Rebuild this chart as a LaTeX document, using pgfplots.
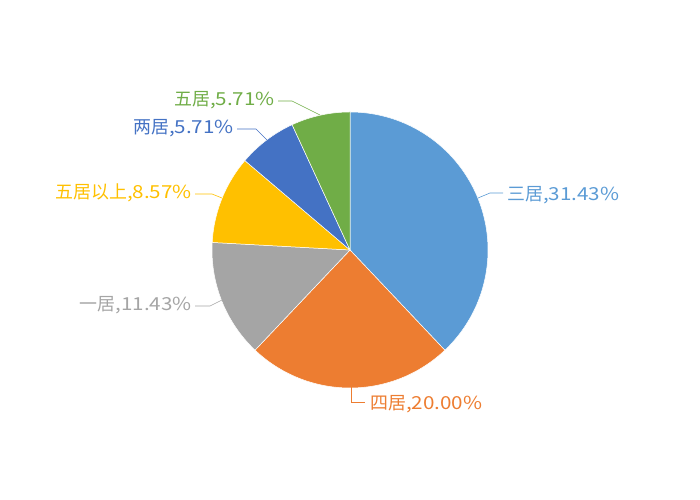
\documentclass[border=0pt]{standalone}
\usepackage{pgfplots}
\pgfplotsset{compat=1.18}
\usepackage{fontspec}
\setmainfont{Noto Sans CJK SC}
\newfontfamily\wide[FakeStretch=1.15]{Noto Sans CJK SC}

\definecolor{cSan}{HTML}{5B9BD5}
\definecolor{cSi}{HTML}{ED7D31}
\definecolor{cYi}{HTML}{A5A5A5}
\definecolor{cWuUp}{HTML}{FFC000}
\definecolor{cLiang}{HTML}{4472C4}
\definecolor{cWu}{HTML}{70AD47}

% shares, clockwise from the top
\def\vSan{31.43}
\def\vSi{20.00}
\def\vYi{11.43}
\def\vWuUp{8.57}
\def\vLiang{5.71}
\def\vWu{5.71}
\pgfmathsetmacro\tot{\vSan+\vSi+\vYi+\vWuUp+\vLiang+\vWu}
\pgfmathsetmacro\aA{90}
\pgfmathsetmacro\aB{\aA-360*\vSan/\tot}
\pgfmathsetmacro\aC{\aB-360*\vSi/\tot}
\pgfmathsetmacro\aD{\aC-360*\vYi/\tot}
\pgfmathsetmacro\aE{\aD-360*\vWuUp/\tot}
\pgfmathsetmacro\aF{\aE-360*\vLiang/\tot}
\pgfmathsetmacro\aG{\aF-360*\vWu/\tot}

\newcommand{\slice}[3]{%
  \addplot[fill=#1, draw=white, line width=0.5pt, domain=#3:#2, samples=90, variable=\t]
    ({350+138*cos(t)},{250+138*sin(t)}) -- (axis cs:350,250) -- cycle;}
% label: name, value
\newcommand{\lab}[2]{#1{\wide ,#2\%}}

\tikzset{lbl/.style={font=\fontsize{18}{21}\selectfont, inner sep=0pt}}

\begin{document}
\begin{tikzpicture}[x=1bp,y=1bp]
\begin{axis}[
  width=700bp, height=500bp, scale only axis,
  xmin=0, xmax=700, ymin=0, ymax=500,
  hide axis, clip=false,
]
\slice{cSan}{\aA}{\aB}
\slice{cSi}{\aB}{\aC}
\slice{cYi}{\aC}{\aD}
\slice{cWuUp}{\aD}{\aE}
\slice{cLiang}{\aE}{\aF}
\slice{cWu}{\aF}{\aG}

% leader lines and labels (y measured upward)
\draw[cSan, line width=0.6pt] (axis cs:478,302) -- (axis cs:490,307) -- (axis cs:503,307);
\node[lbl, text=cSan, anchor=west] at (axis cs:507,305) {\lab{三居}{31.43}};

\draw[cSi, line width=0.6pt] (axis cs:351,113) -- (axis cs:351,98) -- (axis cs:365,98);
\node[lbl, text=cSi, anchor=west] at (axis cs:370,96) {\lab{四居}{20.00}};

\draw[cYi, line width=0.6pt] (axis cs:222,200) -- (axis cs:210,194) -- (axis cs:195,194);
\node[lbl, text=cYi, anchor=east] at (axis cs:192,195) {\lab{一居}{11.43}};

\draw[cWuUp, line width=0.6pt] (axis cs:222,302) -- (axis cs:212,306) -- (axis cs:195,306);
\node[lbl, text=cWuUp, anchor=east] at (axis cs:192,307) {\lab{五居以上}{8.57}};

\draw[cLiang, line width=0.6pt] (axis cs:267,360) -- (axis cs:256,371) -- (axis cs:237,371);
\node[lbl, text=cLiang, anchor=east] at (axis cs:234,372) {\lab{两居}{5.71}};

\draw[cWu, line width=0.6pt] (axis cs:320,385) -- (axis cs:292,399) -- (axis cs:278,399);
\node[lbl, text=cWu, anchor=east] at (axis cs:275,400) {\lab{五居}{5.71}};
\end{axis}
\path (0,0) rectangle (700,500);
\end{tikzpicture}
\end{document}
